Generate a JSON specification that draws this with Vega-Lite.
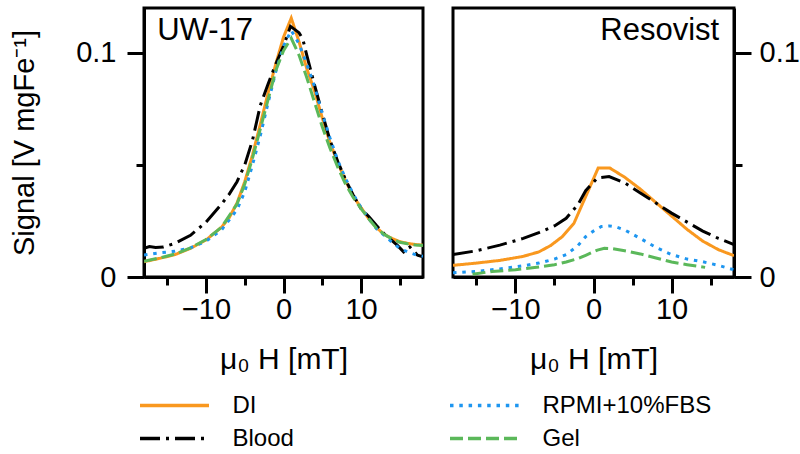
{
  "$schema": "https://vega.github.io/schema/vega-lite/v6.json",
  "background": "white",
  "padding": {"left": 9, "top": 6, "right": 4, "bottom": 4},
  "config": {
    "font": "Liberation Sans",
    "view": {"stroke": "black", "strokeWidth": 3},
    "axis": {
      "grid": false,
      "domainColor": "black",
      "domainWidth": 3,
      "tickColor": "black",
      "tickWidth": 3,
      "labelColor": "black",
      "labelFont": "Liberation Sans",
      "labelFontSize": 29,
      "titleFont": "Liberation Sans",
      "titleFontSize": 29,
      "titleFontWeight": "normal",
      "titleColor": "black",
      "labelFlush": false,
      "labelOverlap": false
    }
  },
  "datasets": {
    "curves": [
      {"panel":"UW-17","series":"DI","x":-18,"y":0.0068},
      {"panel":"UW-17","series":"DI","x":-16,"y":0.0083},
      {"panel":"UW-17","series":"DI","x":-14,"y":0.0100},
      {"panel":"UW-17","series":"DI","x":-12,"y":0.0128},
      {"panel":"UW-17","series":"DI","x":-10,"y":0.0165},
      {"panel":"UW-17","series":"DI","x":-8,"y":0.0222},
      {"panel":"UW-17","series":"DI","x":-7,"y":0.0265},
      {"panel":"UW-17","series":"DI","x":-6,"y":0.0330},
      {"panel":"UW-17","series":"DI","x":-5,"y":0.0425},
      {"panel":"UW-17","series":"DI","x":-4,"y":0.0545},
      {"panel":"UW-17","series":"DI","x":-3,"y":0.0680},
      {"panel":"UW-17","series":"DI","x":-2,"y":0.0820},
      {"panel":"UW-17","series":"DI","x":-1,"y":0.0950},
      {"panel":"UW-17","series":"DI","x":0,"y":0.1070},
      {"panel":"UW-17","series":"DI","x":1,"y":0.1155},
      {"panel":"UW-17","series":"DI","x":2,"y":0.1050},
      {"panel":"UW-17","series":"DI","x":3,"y":0.0930},
      {"panel":"UW-17","series":"DI","x":4,"y":0.0830},
      {"panel":"UW-17","series":"DI","x":5,"y":0.0710},
      {"panel":"UW-17","series":"DI","x":6,"y":0.0600},
      {"panel":"UW-17","series":"DI","x":7,"y":0.0510},
      {"panel":"UW-17","series":"DI","x":8,"y":0.0430},
      {"panel":"UW-17","series":"DI","x":9,"y":0.0360},
      {"panel":"UW-17","series":"DI","x":10,"y":0.0310},
      {"panel":"UW-17","series":"DI","x":11,"y":0.0260},
      {"panel":"UW-17","series":"DI","x":12,"y":0.0220},
      {"panel":"UW-17","series":"DI","x":13,"y":0.0190},
      {"panel":"UW-17","series":"DI","x":14,"y":0.0172},
      {"panel":"UW-17","series":"DI","x":15,"y":0.0158},
      {"panel":"UW-17","series":"DI","x":16,"y":0.0150},
      {"panel":"UW-17","series":"DI","x":17,"y":0.0145},
      {"panel":"UW-17","series":"DI","x":18,"y":0.0142},

      {"panel":"UW-17","series":"Blood","x":-18,"y":0.0128},
      {"panel":"UW-17","series":"Blood","x":-17.3,"y":0.0136},
      {"panel":"UW-17","series":"Blood","x":-16.5,"y":0.0132},
      {"panel":"UW-17","series":"Blood","x":-15.5,"y":0.0134},
      {"panel":"UW-17","series":"Blood","x":-14,"y":0.0150},
      {"panel":"UW-17","series":"Blood","x":-12,"y":0.0186},
      {"panel":"UW-17","series":"Blood","x":-10,"y":0.0245},
      {"panel":"UW-17","series":"Blood","x":-8,"y":0.0325},
      {"panel":"UW-17","series":"Blood","x":-7,"y":0.0370},
      {"panel":"UW-17","series":"Blood","x":-6,"y":0.0425},
      {"panel":"UW-17","series":"Blood","x":-5,"y":0.0500},
      {"panel":"UW-17","series":"Blood","x":-4,"y":0.0610},
      {"panel":"UW-17","series":"Blood","x":-3,"y":0.0765},
      {"panel":"UW-17","series":"Blood","x":-2,"y":0.0860},
      {"panel":"UW-17","series":"Blood","x":-1,"y":0.0950},
      {"panel":"UW-17","series":"Blood","x":0,"y":0.1030},
      {"panel":"UW-17","series":"Blood","x":0.9,"y":0.1118},
      {"panel":"UW-17","series":"Blood","x":2,"y":0.1090},
      {"panel":"UW-17","series":"Blood","x":2.5,"y":0.1060},
      {"panel":"UW-17","series":"Blood","x":3,"y":0.0990},
      {"panel":"UW-17","series":"Blood","x":4,"y":0.0857},
      {"panel":"UW-17","series":"Blood","x":5,"y":0.0730},
      {"panel":"UW-17","series":"Blood","x":6,"y":0.0610},
      {"panel":"UW-17","series":"Blood","x":7,"y":0.0515},
      {"panel":"UW-17","series":"Blood","x":8,"y":0.0435},
      {"panel":"UW-17","series":"Blood","x":9,"y":0.0365},
      {"panel":"UW-17","series":"Blood","x":10,"y":0.0305},
      {"panel":"UW-17","series":"Blood","x":11,"y":0.0270},
      {"panel":"UW-17","series":"Blood","x":12,"y":0.0230},
      {"panel":"UW-17","series":"Blood","x":13,"y":0.0192},
      {"panel":"UW-17","series":"Blood","x":14,"y":0.0162},
      {"panel":"UW-17","series":"Blood","x":14.7,"y":0.0141},
      {"panel":"UW-17","series":"Blood","x":15.5,"y":0.0112},
      {"panel":"UW-17","series":"Blood","x":16.3,"y":0.0134},
      {"panel":"UW-17","series":"Blood","x":17.3,"y":0.0097},
      {"panel":"UW-17","series":"Blood","x":18,"y":0.0090},

      {"panel":"UW-17","series":"RPMI+10%FBS","x":-18,"y":0.0098},
      {"panel":"UW-17","series":"RPMI+10%FBS","x":-16,"y":0.0108},
      {"panel":"UW-17","series":"RPMI+10%FBS","x":-14,"y":0.0115},
      {"panel":"UW-17","series":"RPMI+10%FBS","x":-12,"y":0.0130},
      {"panel":"UW-17","series":"RPMI+10%FBS","x":-10,"y":0.0160},
      {"panel":"UW-17","series":"RPMI+10%FBS","x":-8,"y":0.0210},
      {"panel":"UW-17","series":"RPMI+10%FBS","x":-6,"y":0.0300},
      {"panel":"UW-17","series":"RPMI+10%FBS","x":-5,"y":0.0380},
      {"panel":"UW-17","series":"RPMI+10%FBS","x":-4,"y":0.0500},
      {"panel":"UW-17","series":"RPMI+10%FBS","x":-3,"y":0.0630},
      {"panel":"UW-17","series":"RPMI+10%FBS","x":-2,"y":0.0775},
      {"panel":"UW-17","series":"RPMI+10%FBS","x":-1,"y":0.0915},
      {"panel":"UW-17","series":"RPMI+10%FBS","x":0,"y":0.1030},
      {"panel":"UW-17","series":"RPMI+10%FBS","x":1,"y":0.1100},
      {"panel":"UW-17","series":"RPMI+10%FBS","x":2,"y":0.1040},
      {"panel":"UW-17","series":"RPMI+10%FBS","x":3,"y":0.0950},
      {"panel":"UW-17","series":"RPMI+10%FBS","x":4,"y":0.0850},
      {"panel":"UW-17","series":"RPMI+10%FBS","x":5,"y":0.0730},
      {"panel":"UW-17","series":"RPMI+10%FBS","x":6,"y":0.0620},
      {"panel":"UW-17","series":"RPMI+10%FBS","x":7,"y":0.0520},
      {"panel":"UW-17","series":"RPMI+10%FBS","x":8,"y":0.0440},
      {"panel":"UW-17","series":"RPMI+10%FBS","x":9,"y":0.0370},
      {"panel":"UW-17","series":"RPMI+10%FBS","x":10,"y":0.0310},
      {"panel":"UW-17","series":"RPMI+10%FBS","x":11,"y":0.0260},
      {"panel":"UW-17","series":"RPMI+10%FBS","x":12,"y":0.0215},
      {"panel":"UW-17","series":"RPMI+10%FBS","x":13,"y":0.0186},
      {"panel":"UW-17","series":"RPMI+10%FBS","x":14,"y":0.0155},
      {"panel":"UW-17","series":"RPMI+10%FBS","x":15,"y":0.0128},
      {"panel":"UW-17","series":"RPMI+10%FBS","x":16,"y":0.0112},
      {"panel":"UW-17","series":"RPMI+10%FBS","x":17,"y":0.0100},
      {"panel":"UW-17","series":"RPMI+10%FBS","x":18,"y":0.0092},

      {"panel":"UW-17","series":"Gel","x":-18,"y":0.0070},
      {"panel":"UW-17","series":"Gel","x":-16,"y":0.0085},
      {"panel":"UW-17","series":"Gel","x":-14,"y":0.0102},
      {"panel":"UW-17","series":"Gel","x":-12,"y":0.0130},
      {"panel":"UW-17","series":"Gel","x":-10,"y":0.0167},
      {"panel":"UW-17","series":"Gel","x":-8,"y":0.0222},
      {"panel":"UW-17","series":"Gel","x":-6,"y":0.0325},
      {"panel":"UW-17","series":"Gel","x":-5,"y":0.0415},
      {"panel":"UW-17","series":"Gel","x":-4,"y":0.0530},
      {"panel":"UW-17","series":"Gel","x":-3,"y":0.0660},
      {"panel":"UW-17","series":"Gel","x":-2,"y":0.0790},
      {"panel":"UW-17","series":"Gel","x":-1,"y":0.0920},
      {"panel":"UW-17","series":"Gel","x":0,"y":0.1010},
      {"panel":"UW-17","series":"Gel","x":1,"y":0.1065},
      {"panel":"UW-17","series":"Gel","x":2,"y":0.0990},
      {"panel":"UW-17","series":"Gel","x":3,"y":0.0890},
      {"panel":"UW-17","series":"Gel","x":4,"y":0.0780},
      {"panel":"UW-17","series":"Gel","x":5,"y":0.0670},
      {"panel":"UW-17","series":"Gel","x":6,"y":0.0575},
      {"panel":"UW-17","series":"Gel","x":7,"y":0.0490},
      {"panel":"UW-17","series":"Gel","x":8,"y":0.0415},
      {"panel":"UW-17","series":"Gel","x":9,"y":0.0355},
      {"panel":"UW-17","series":"Gel","x":10,"y":0.0305},
      {"panel":"UW-17","series":"Gel","x":11,"y":0.0260},
      {"panel":"UW-17","series":"Gel","x":12,"y":0.0218},
      {"panel":"UW-17","series":"Gel","x":13,"y":0.0190},
      {"panel":"UW-17","series":"Gel","x":14,"y":0.0170},
      {"panel":"UW-17","series":"Gel","x":15,"y":0.0155},
      {"panel":"UW-17","series":"Gel","x":16,"y":0.0148},
      {"panel":"UW-17","series":"Gel","x":17,"y":0.0143},
      {"panel":"UW-17","series":"Gel","x":18,"y":0.0141},

      {"panel":"Resovist","series":"DI","x":-18,"y":0.0052},
      {"panel":"Resovist","series":"DI","x":-15,"y":0.0062},
      {"panel":"Resovist","series":"DI","x":-12,"y":0.0074},
      {"panel":"Resovist","series":"DI","x":-9,"y":0.0092},
      {"panel":"Resovist","series":"DI","x":-7,"y":0.0112},
      {"panel":"Resovist","series":"DI","x":-5.5,"y":0.0140},
      {"panel":"Resovist","series":"DI","x":-4,"y":0.0180},
      {"panel":"Resovist","series":"DI","x":-2.5,"y":0.0240},
      {"panel":"Resovist","series":"DI","x":0.6,"y":0.0486},
      {"panel":"Resovist","series":"DI","x":2.1,"y":0.0486},
      {"panel":"Resovist","series":"DI","x":4,"y":0.0445},
      {"panel":"Resovist","series":"DI","x":6,"y":0.0392},
      {"panel":"Resovist","series":"DI","x":8,"y":0.0332},
      {"panel":"Resovist","series":"DI","x":10,"y":0.0272},
      {"panel":"Resovist","series":"DI","x":12,"y":0.0212},
      {"panel":"Resovist","series":"DI","x":14,"y":0.0160},
      {"panel":"Resovist","series":"DI","x":16,"y":0.0122},
      {"panel":"Resovist","series":"DI","x":18,"y":0.0095},

      {"panel":"Resovist","series":"Blood","x":-18,"y":0.0100},
      {"panel":"Resovist","series":"Blood","x":-15,"y":0.0117},
      {"panel":"Resovist","series":"Blood","x":-12,"y":0.0142},
      {"panel":"Resovist","series":"Blood","x":-9,"y":0.0172},
      {"panel":"Resovist","series":"Blood","x":-7,"y":0.0198},
      {"panel":"Resovist","series":"Blood","x":-5,"y":0.0228},
      {"panel":"Resovist","series":"Blood","x":-3.5,"y":0.0262},
      {"panel":"Resovist","series":"Blood","x":-2,"y":0.0322},
      {"panel":"Resovist","series":"Blood","x":-1,"y":0.0385},
      {"panel":"Resovist","series":"Blood","x":0.5,"y":0.0442},
      {"panel":"Resovist","series":"Blood","x":2,"y":0.0448},
      {"panel":"Resovist","series":"Blood","x":4,"y":0.0420},
      {"panel":"Resovist","series":"Blood","x":6,"y":0.0375},
      {"panel":"Resovist","series":"Blood","x":8,"y":0.0330},
      {"panel":"Resovist","series":"Blood","x":10,"y":0.0285},
      {"panel":"Resovist","series":"Blood","x":12,"y":0.0245},
      {"panel":"Resovist","series":"Blood","x":14,"y":0.0205},
      {"panel":"Resovist","series":"Blood","x":16,"y":0.0172},
      {"panel":"Resovist","series":"Blood","x":18,"y":0.0145},

      {"panel":"Resovist","series":"RPMI+10%FBS","x":-18,"y":0.0019},
      {"panel":"Resovist","series":"RPMI+10%FBS","x":-15,"y":0.0025},
      {"panel":"Resovist","series":"RPMI+10%FBS","x":-12,"y":0.0036},
      {"panel":"Resovist","series":"RPMI+10%FBS","x":-9,"y":0.0050},
      {"panel":"Resovist","series":"RPMI+10%FBS","x":-7,"y":0.0062},
      {"panel":"Resovist","series":"RPMI+10%FBS","x":-5,"y":0.0080},
      {"panel":"Resovist","series":"RPMI+10%FBS","x":-3.5,"y":0.0100},
      {"panel":"Resovist","series":"RPMI+10%FBS","x":-2,"y":0.0140},
      {"panel":"Resovist","series":"RPMI+10%FBS","x":-1,"y":0.0180},
      {"panel":"Resovist","series":"RPMI+10%FBS","x":0,"y":0.0205},
      {"panel":"Resovist","series":"RPMI+10%FBS","x":1,"y":0.0225},
      {"panel":"Resovist","series":"RPMI+10%FBS","x":2,"y":0.0228},
      {"panel":"Resovist","series":"RPMI+10%FBS","x":3,"y":0.0222},
      {"panel":"Resovist","series":"RPMI+10%FBS","x":4,"y":0.0210},
      {"panel":"Resovist","series":"RPMI+10%FBS","x":6,"y":0.0172},
      {"panel":"Resovist","series":"RPMI+10%FBS","x":8,"y":0.0132},
      {"panel":"Resovist","series":"RPMI+10%FBS","x":10,"y":0.0100},
      {"panel":"Resovist","series":"RPMI+10%FBS","x":12,"y":0.0080},
      {"panel":"Resovist","series":"RPMI+10%FBS","x":14,"y":0.0068},
      {"panel":"Resovist","series":"RPMI+10%FBS","x":16,"y":0.0052},
      {"panel":"Resovist","series":"RPMI+10%FBS","x":18,"y":0.0032},

      {"panel":"Resovist","series":"Gel","x":-15.5,"y":0.0012},
      {"panel":"Resovist","series":"Gel","x":-13,"y":0.0025},
      {"panel":"Resovist","series":"Gel","x":-10,"y":0.0032},
      {"panel":"Resovist","series":"Gel","x":-7,"y":0.0045},
      {"panel":"Resovist","series":"Gel","x":-5,"y":0.0055},
      {"panel":"Resovist","series":"Gel","x":-3.5,"y":0.0067},
      {"panel":"Resovist","series":"Gel","x":-2,"y":0.0082},
      {"panel":"Resovist","series":"Gel","x":-1,"y":0.0097},
      {"panel":"Resovist","series":"Gel","x":0.5,"y":0.0120},
      {"panel":"Resovist","series":"Gel","x":1.4,"y":0.0128},
      {"panel":"Resovist","series":"Gel","x":2.5,"y":0.0126},
      {"panel":"Resovist","series":"Gel","x":4,"y":0.0117},
      {"panel":"Resovist","series":"Gel","x":6,"y":0.0103},
      {"panel":"Resovist","series":"Gel","x":8,"y":0.0085},
      {"panel":"Resovist","series":"Gel","x":10,"y":0.0067},
      {"panel":"Resovist","series":"Gel","x":12,"y":0.0055},
      {"panel":"Resovist","series":"Gel","x":14.3,"y":0.0043}
    ],
    "labels": [
      {"panel":"UW-17","label":"UW-17","x":-16.3,"y":0.1057},
      {"panel":"Resovist","label":"Resovist","x":16.1,"y":0.1057}
    ]
  },
  "spacing": 26,
  "hconcat": [
    {
      "width": 279,
      "height": 269,
      "layer": [
        {
          "data": {"name": "curves"},
          "transform": [{"filter": "datum.panel === 'UW-17'"}],
          "mark": {"type": "line", "strokeWidth": 3, "clip": true},
          "encoding": {
            "x": {"field": "x", "type": "quantitative",
                  "scale": {"domain": [-18, 18], "nice": false, "zero": false},
                  "axis": {"values": [-15, -10, -5, 0, 5, 10, 15],
                           "labelExpr": "datum.value % 10 === 0 ? datum.label : ''",
                           "tickSize": {"condition": {"test": "datum.value % 10 === 0", "value": 16}, "value": 8},
                           "labelPadding": 2, "titlePadding": 20, "titleFontSize": 30},
                  "title": "μ₀ H [mT]"},
            "y": {"field": "y", "type": "quantitative",
                  "scale": {"domain": [0, 0.12], "nice": false},
                  "axis": {"values": [0, 0.05, 0.1],
                           "labelExpr": "datum.value === 0 ? '0' : (datum.value > 0.09 ? '0.1' : '')",
                           "tickSize": {"condition": {"test": "datum.value !== 0.05", "value": 17}, "value": 8},
                           "labelPadding": 11, "titlePadding": 36},
                  "title": "Signal [V mgFe⁻¹]"},
            "color": {"field": "series", "type": "nominal",
                      "scale": {"domain": ["DI", "Blood", "RPMI+10%FBS", "Gel"],
                                "range": ["#F9981F", "#000000", "#1E96F0", "#5BB85A"]},
                      "legend": {"orient": "none", "legendX": 13.5, "legendY": 380.5,
                                 "title": null, "columns": 2, "symbolType": "M-2.3,0H2.3",
                                 "symbolSize": 900, "symbolStrokeWidth": 3.5,
                                 "labelFontSize": 24, "labelFont": "Liberation Sans",
                                 "labelColor": "black", "labelOffset": 41, "labelLimit": 400,
                                 "columnPadding": 148, "rowPadding": 4, "padding": 0}},
            "strokeDash": {"field": "series", "type": "nominal",
                           "scale": {"domain": ["DI", "Blood", "RPMI+10%FBS", "Gel"],
                                     "range": [[1, 0], [20, 6, 3, 6], [3.5, 5.8], [13, 5]]}}
          }
        },
        {
          "data": {"name": "labels"},
          "transform": [{"filter": "datum.panel === 'UW-17'"}],
          "mark": {"type": "text", "align": "left", "baseline": "alphabetic", "fontSize": 31, "font": "Liberation Sans", "color": "black"},
          "encoding": {
            "x": {"field": "x", "type": "quantitative"},
            "y": {"field": "y", "type": "quantitative"},
            "text": {"field": "label"}
          }
        }
      ]
    },
    {
      "width": 281,
      "height": 269,
      "layer": [
        {
          "data": {"name": "curves"},
          "transform": [{"filter": "datum.panel === 'Resovist'"}],
          "mark": {"type": "line", "strokeWidth": 3, "clip": true},
          "encoding": {
            "x": {"field": "x", "type": "quantitative",
                  "scale": {"domain": [-18, 18], "nice": false, "zero": false},
                  "axis": {"values": [-15, -10, -5, 0, 5, 10, 15],
                           "labelExpr": "datum.value % 10 === 0 ? datum.label : ''",
                           "tickSize": {"condition": {"test": "datum.value % 10 === 0", "value": 16}, "value": 8},
                           "labelPadding": 2, "titlePadding": 20, "titleFontSize": 30},
                  "title": "μ₀ H [mT]"},
            "y": {"field": "y", "type": "quantitative",
                  "scale": {"domain": [0, 0.12], "nice": false},
                  "axis": {"orient": "right", "values": [0, 0.05, 0.1],
                           "labelExpr": "datum.value === 0 ? '0' : (datum.value > 0.09 ? '0.1' : '')",
                           "tickSize": {"condition": {"test": "datum.value !== 0.05", "value": 17}, "value": 8},
                           "labelPadding": 8},
                  "title": null},
            "color": {"field": "series", "type": "nominal",
                      "scale": {"domain": ["DI", "Blood", "RPMI+10%FBS", "Gel"],
                                "range": ["#F9981F", "#000000", "#1E96F0", "#5BB85A"]}},
            "strokeDash": {"field": "series", "type": "nominal",
                           "scale": {"domain": ["DI", "Blood", "RPMI+10%FBS", "Gel"],
                                     "range": [[1, 0], [20, 6, 3, 6], [3.5, 5.8], [13, 5]]}}
          }
        },
        {
          "data": {"name": "labels"},
          "transform": [{"filter": "datum.panel === 'Resovist'"}],
          "mark": {"type": "text", "align": "right", "baseline": "alphabetic", "fontSize": 31, "font": "Liberation Sans", "color": "black"},
          "encoding": {
            "x": {"field": "x", "type": "quantitative"},
            "y": {"field": "y", "type": "quantitative"},
            "text": {"field": "label"}
          }
        }
      ]
    }
  ]
}
